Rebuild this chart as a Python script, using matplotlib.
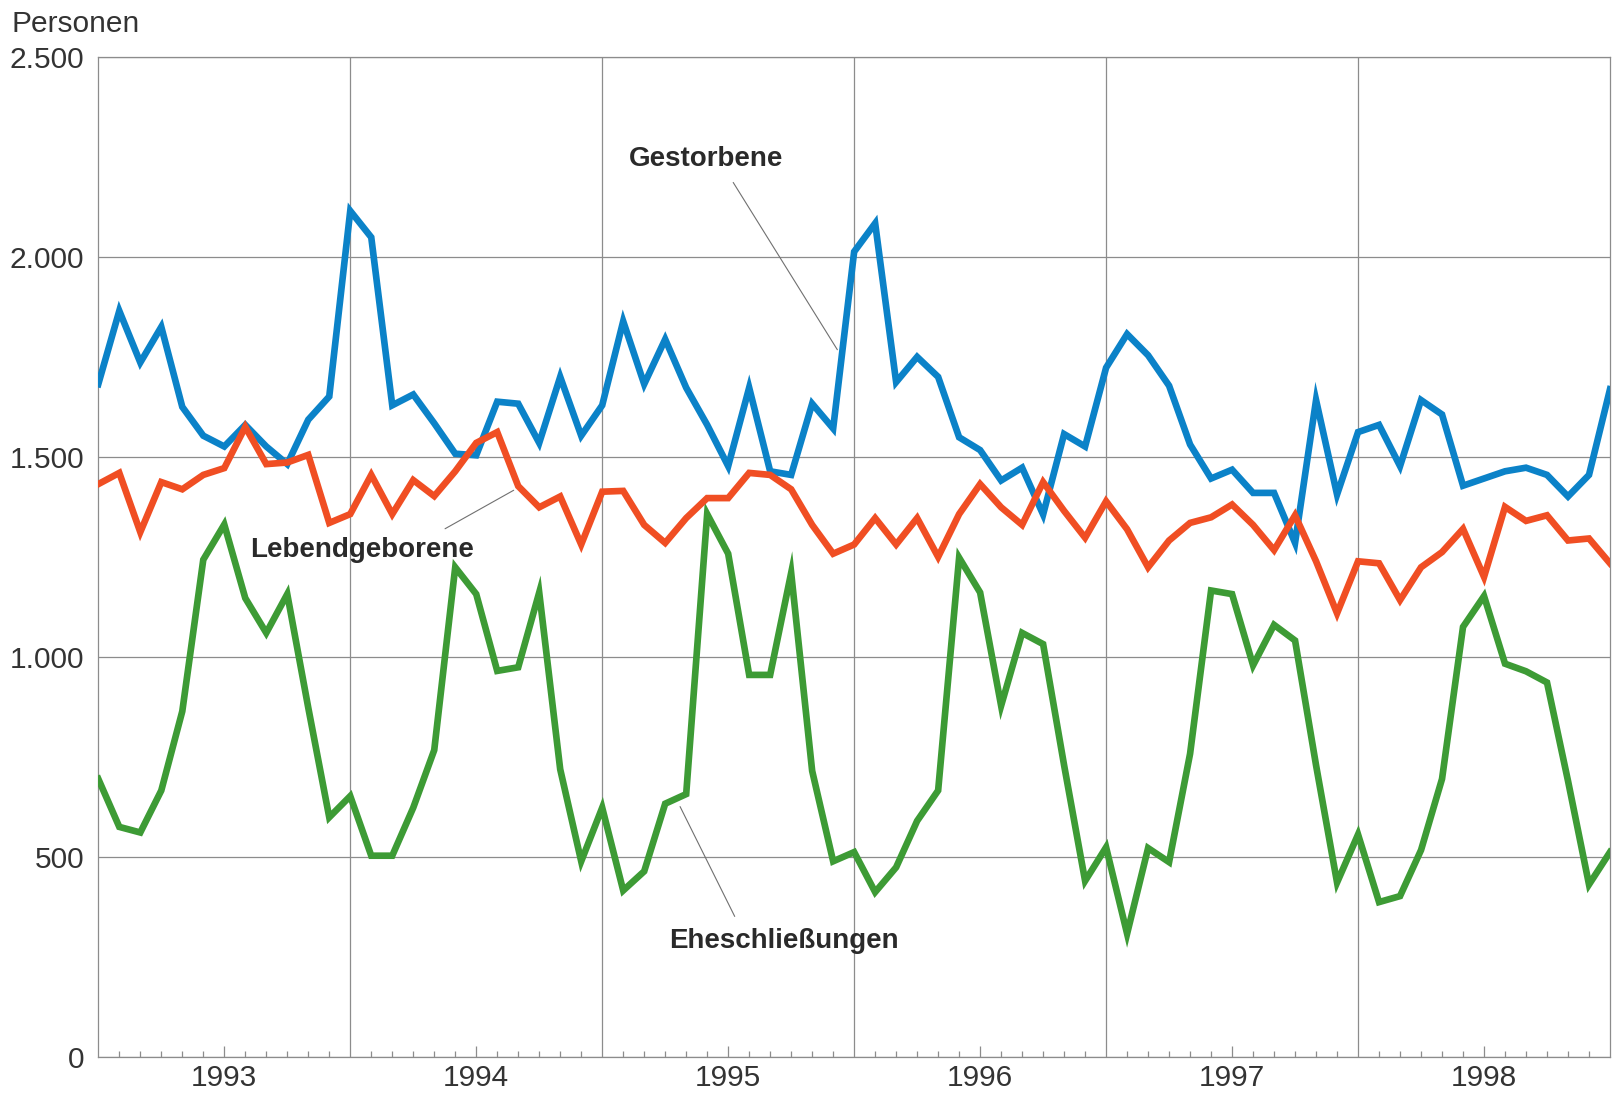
import matplotlib
matplotlib.use("Agg")
import matplotlib.pyplot as plt
import numpy as np
from matplotlib.ticker import FixedLocator, FuncFormatter

plt.rcParams['font.family'] = ['Liberation Sans', 'DejaVu Sans']

# Monthly values, Jan 1993 ... Jan 1999 (73 points at month starts)
gestorbene = [1683, 1866, 1737, 1826, 1626, 1554, 1527, 1581, 1527, 1483, 1594, 1652,
              2116, 2050, 1630, 1657, 1585, 1509, 1505, 1639, 1634, 1536, 1701, 1554,
              1630, 1840, 1683, 1795, 1674, 1581, 1478, 1674, 1465, 1456, 1634, 1572,
              2014, 2085, 1688, 1751, 1701, 1550, 1518, 1442, 1474, 1357, 1558, 1527,
              1724, 1808, 1755, 1679, 1532, 1447, 1469, 1411, 1411, 1286, 1643, 1407,
              1563, 1581, 1478, 1643, 1607, 1429, 1447, 1465, 1474, 1456, 1402, 1456,
              1670]
lebendgeborene = [1433, 1461, 1313, 1438, 1420, 1456, 1473, 1576, 1483, 1487, 1506, 1336,
                  1358, 1456, 1358, 1443, 1403, 1465, 1536, 1563, 1428, 1375, 1402, 1282,
                  1414, 1416, 1331, 1286, 1348, 1398, 1398, 1461, 1456, 1420, 1331, 1259,
                  1282, 1348, 1282, 1348, 1251, 1358, 1433, 1375, 1331, 1438, 1366, 1299,
                  1390, 1320, 1225, 1292, 1336, 1350, 1382, 1331, 1268, 1355, 1240, 1110,
                  1240, 1235, 1143, 1225, 1263, 1321, 1201, 1376, 1341, 1355, 1292, 1297,
                  1235]
eheschliessungen = [696, 576, 562, 667, 865, 1244, 1332, 1148, 1061, 1158, 874, 600,
                    653, 504, 504, 624, 768, 1225, 1158, 966, 975, 1162, 720, 490,
                    624, 417, 465, 634, 658, 1358, 1259, 956, 956, 1211, 716, 490,
                    513, 413, 475, 591, 667, 1249, 1162, 879, 1061, 1033, 730, 441,
                    525, 309, 523, 488, 759, 1167, 1158, 980, 1081, 1042, 730, 437,
                    557, 388, 403, 518, 696, 1076, 1153, 984, 965, 937, 691, 432,
                    513]
years = ['1993', '1994', '1995', '1996', '1997', '1998']
yticks = [0, 500, 1000, 1500, 2000, 2500]

blue = '#0b82c8'
red = '#f04e23'
green = '#3d9b35'
grid_c = '#8c8c8c'
text_c = '#333333'

fig = plt.figure(figsize=(16.13, 11.03), dpi=100)
ax = fig.add_axes([98.3/1613, 1 - 1057.3/1103, (1610 - 98.3)/1613, (1057.3 - 57.3)/1103])

months = np.arange(len(gestorbene))
n_months = len(years) * 12

lw = 4.8
ax.plot(months, eheschliessungen, color=green, lw=lw, solid_joinstyle='miter', zorder=3)
ax.plot(months, gestorbene, color=blue, lw=lw, solid_joinstyle='miter', zorder=4)
ax.plot(months, lebendgeborene, color=red, lw=lw, solid_joinstyle='miter', zorder=5)

ax.set_xlim(0, n_months)
ax.set_ylim(0, 2500)

# grid
for y in yticks:
    ax.axhline(y, color=grid_c, lw=0.9, zorder=1)
for k in range(1, len(years)):
    ax.axvline(12 * k, color=grid_c, lw=0.9, zorder=1)

for s in ax.spines.values():
    s.set_color(grid_c)
    s.set_linewidth(0.9)

# y axis
ax.yaxis.set_major_locator(FixedLocator(yticks))
ax.yaxis.set_major_formatter(FuncFormatter(lambda v, p: f"{int(v):,}".replace(',', '.')))
ax.tick_params(axis='y', length=0, pad=10, labelsize=21.5, labelcolor=text_c)

# x axis: long tick mid-year with label, short ticks at other month boundaries
major = [12 * k + 6 for k in range(len(years))]
minor = [m for m in range(1, n_months) if m % 12 != 0 and m % 12 != 6]
ax.xaxis.set_major_locator(FixedLocator(major))
ax.xaxis.set_minor_locator(FixedLocator(minor))
ax.set_xticklabels(years)
ax.tick_params(axis='x', which='major', direction='in', length=8, width=0.9,
               color=grid_c, pad=5, labelsize=21.5, labelcolor=text_c)
ax.tick_params(axis='x', which='minor', direction='in', length=4.5, width=0.9,
               color=grid_c)

fig.text(12 / 1613, 1 - 24 / 1103, 'Personen', fontsize=21.5, color=text_c,
         ha='left', va='center')

# labels with leader lines
lab_kw = dict(fontsize=20, fontweight='bold', color='#2a2a2a', va='center', ha='left', zorder=6)
lead_kw = dict(arrowstyle='-', color='#707070', lw=0.8)
ax.text(25.26, 2245, 'Gestorbene', **lab_kw)
ax.annotate('', xy=(35.27, 1763), xytext=(30.17, 2193), arrowprops=lead_kw)
ax.text(7.22, 1268, 'Lebendgeborene', **lab_kw)
ax.annotate('', xy=(19.9, 1421), xytext=(16.4, 1318), arrowprops=lead_kw)
ax.text(27.17, 290, 'Eheschließungen', **lab_kw)
ax.annotate('', xy=(27.65, 633), xytext=(30.37, 346), arrowprops=lead_kw)

fig.savefig('out.png', dpi=100, facecolor='white')
